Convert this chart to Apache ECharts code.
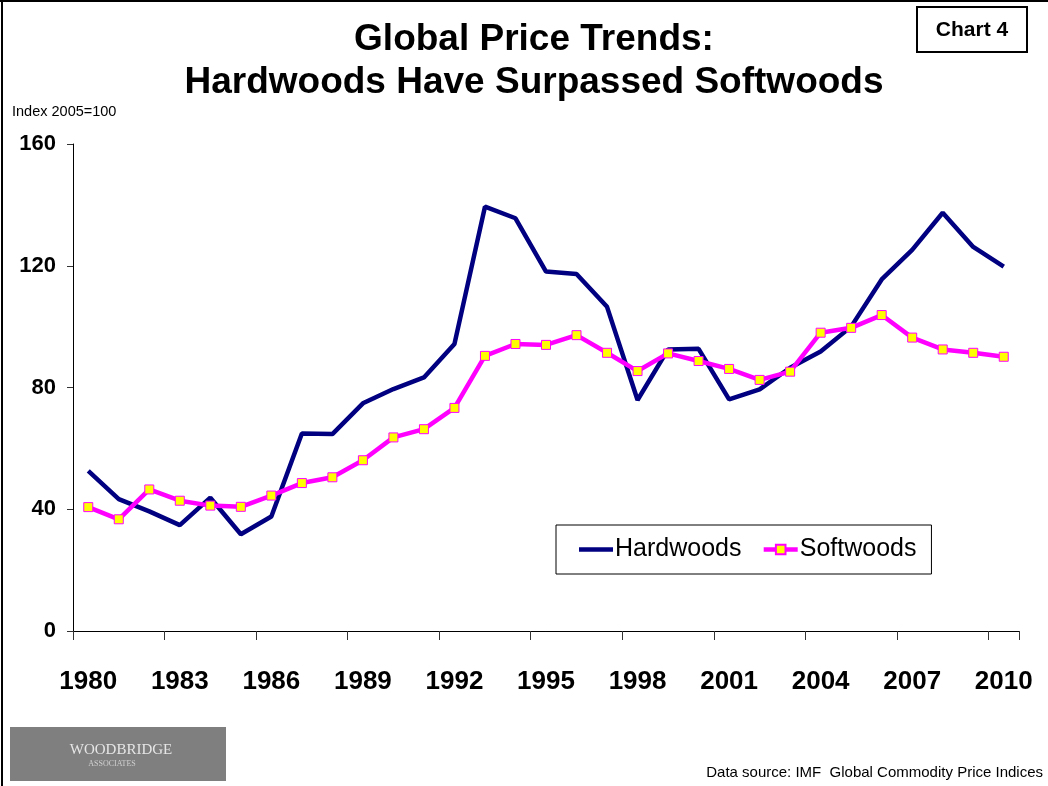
<!DOCTYPE html>
<html>
<head>
<meta charset="utf-8">
<script src="https://cdn.jsdelivr.net/npm/echarts@6/dist/echarts.min.js"></script>
<style>
html,body{margin:0;padding:0;background:#fff;}
#chart{width:1048px;height:786px;}
</style>
</head>
<body>
<div id="chart"></div>
<script>
const years = ['1980','1981','1982','1983','1984','1985','1986','1987','1988','1989','1990','1991','1992','1993','1994','1995','1996','1997','1998','1999','2000','2001','2002','2003','2004','2005','2006','2007','2008','2009','2010'];
const hardwoods = [52.6,43.3,39.3,34.8,43.8,31.8,37.6,64.9,64.7,74.8,79.5,83.3,94.3,139.4,135.6,118.1,117.3,106.5,75.9,92.5,92.7,76.1,79.4,86.5,91.8,100,115.5,125.2,137.4,126.2,119.7];
const softwoods = [40.7,36.7,46.5,42.8,41.2,40.8,44.5,48.6,50.5,56.1,63.6,66.3,73.3,90.4,94.3,94.0,97.2,91.4,85.4,91.2,88.7,86.1,82.5,85.2,98.0,99.6,103.8,96.4,92.5,91.4,90.1];
const yTicks = [0,40,80,120,160];

const chart = echarts.init(document.getElementById('chart'));
const font = 'Liberation Sans, Arial, sans-serif';
chart.setOption({
  backgroundColor: '#fff',
  animation: false,
  textStyle: {fontFamily: font},
  grid: {left: 73, right: 29, top: 144, bottom: 155},
  xAxis: {
    type: 'category',
    data: years,
    boundaryGap: true,
    axisLine: {lineStyle: {color: '#000', width: 1}},
    axisTick: {show: true, interval: 2, length: 9, lineStyle: {color: '#333'}},
    axisLabel: {interval: 2, margin: 38, color: '#000', fontSize: 26, fontWeight: 'bold', fontFamily: font},
    splitLine: {show: false}
  },
  yAxis: {
    type: 'value',
    min: yTicks[0], max: yTicks[yTicks.length-1], interval: 40,
    axisLine: {show: true, lineStyle: {color: '#000', width: 1}},
    axisTick: {show: true, length: 6, lineStyle: {color: '#333'}},
    axisLabel: {margin: 17, color: '#000', fontSize: 22, fontWeight: 'bold', fontFamily: font},
    splitLine: {show: false}
  },
  legend: {
    left: 556, top: 525,
    padding: [12, 15, 12, 23],
    itemGap: 20,
    itemWidth: 34, itemHeight: 12,
    borderColor: '#000', borderWidth: 1,
    backgroundColor: '#fff',
    lineStyle: {width: 4.5},
    textStyle: {fontSize: 25, color: '#000', fontFamily: font, padding: [0,0,0,-3]},
    data: [
      {name: 'Hardwoods', icon: 'path://M0,0L34,0L34,4.5L0,4.5Z'},
      {name: 'Softwoods'}
    ]
  },
  series: [
    {
      name: 'Hardwoods', type: 'line', data: hardwoods,
      symbol: 'none',
      lineStyle: {color: '#000080', width: 4.5},
      itemStyle: {color: '#000080'}
    },
    {
      name: 'Softwoods', type: 'line', data: softwoods,
      symbol: 'rect', symbolSize: 9,
      lineStyle: {color: '#FF00FF', width: 4.5},
      itemStyle: {color: '#FFFF00', borderColor: '#FF00FF', borderWidth: 1}
    }
  ],
  graphic: [
    {type: 'line', shape: {x1: 2, y1: 0, x2: 2, y2: 786}, style: {stroke: '#000', lineWidth: 2}},
    {type: 'line', shape: {x1: 0, y1: 1, x2: 1048, y2: 1}, style: {stroke: '#000', lineWidth: 2}},
    {type: 'text', x: 534, y: 21, style: {text: 'Global Price Trends:', font: 'bold 37px ' + font, fill: '#000', textAlign: 'center'}},
    {type: 'text', x: 534, y: 64, style: {text: 'Hardwoods Have Surpassed Softwoods', font: 'bold 37px ' + font, fill: '#000', textAlign: 'center'}},
    {type: 'rect', shape: {x: 917, y: 7, width: 110, height: 45}, style: {fill: '#fff', stroke: '#000', lineWidth: 2}},
    {type: 'text', x: 972, y: 20, style: {text: 'Chart 4', font: 'bold 21px ' + font, fill: '#000', textAlign: 'center'}},
    {type: 'text', x: 12, y: 104, style: {text: 'Index 2005=100', font: '14.5px ' + font, fill: '#000'}},
    {type: 'rect', shape: {x: 10, y: 727, width: 216, height: 54}, style: {fill: '#7f7f7f'}},
    {type: 'text', x: 121, y: 743, style: {text: 'WOODBRIDGE', font: '15px Liberation Serif, serif', fill: '#e6e6e6', textAlign: 'center'}},
    {type: 'text', x: 112, y: 760, style: {text: 'ASSOCIATES', font: '8px Liberation Serif, serif', fill: '#d0d0d0', textAlign: 'center'}},
    {type: 'text', right: 5, top: 765, style: {text: 'Data source: IMF  Global Commodity Price Indices', font: '15px ' + font, fill: '#000'}}
  ]
});
</script>
</body>
</html>
